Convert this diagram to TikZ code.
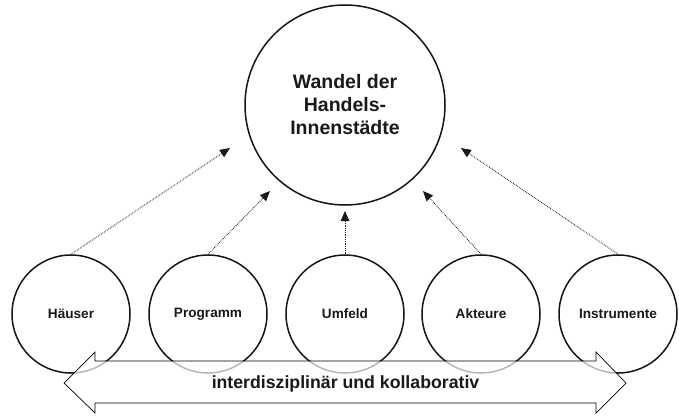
\documentclass[tikz,border=0pt]{standalone}
\usepackage{fontspec}
\setmainfont{Liberation Sans}
\usetikzlibrary{arrows.meta}
\begin{document}
\begin{tikzpicture}[x=1pt,y=-1pt,
  line/.style={draw=black!92, line width=1.5pt},
  small/.style={circle, line, minimum size=118pt, inner sep=0pt, font=\fontsize{13.6}{16}\selectfont\bfseries, text=black!90},
  big/.style={circle, line, minimum size=200pt, inner sep=0pt, align=center, font=\fontsize{19.5}{23}\selectfont\bfseries, text=black!90},
  link/.style={densely dotted, line width=0.8pt, draw=black!90, -{Triangle[length=10pt,width=8.5pt]}},
  band/.style={draw=black, line width=0.7pt, fill=white, fill opacity=0.7},
  bandtext/.style={font=\fontsize{17.7}{20}\selectfont\bfseries, text=black!90, inner sep=0pt}
]
\useasboundingbox (0,0) rectangle (679,415);
\node[big] (main) at (345,105) {Wandel der\\Handels-\\Innenstädte};
\node[small] (hauser) at (71,314) {Häuser};
\node[small] (programm) at (208,314) {Programm};
\node[small] (umfeld) at (345,314) {Umfeld};
\node[small] (akteure) at (481,314) {Akteure};
\node[small] (instrumente) at (618,314) {Instrumente};
\coordinate (t1) at (230,148);
\coordinate (t2) at (270,191);
\coordinate (t3) at (345,211);
\coordinate (t4) at (423,191);
\coordinate (t5) at (461,148);
\draw[link] (hauser.north) -- (t1);
\draw[link] (programm.north) -- (t2);
\draw[link] (umfeld.north) -- (t3);
\draw[link] (akteure.north) -- (t4);
\draw[link] (instrumente.north) -- (t5);
\draw[band] (64,383) -- (95,352) -- (95,361) -- (596,361) -- (596,352) -- (626,383) -- (596,413) -- (596,403) -- (95,403) -- (95,413) -- cycle;
\node[bandtext, anchor=base] (label) at (345.5,388.5) {interdisziplinär und kollaborativ};
\end{tikzpicture}
\end{document}
